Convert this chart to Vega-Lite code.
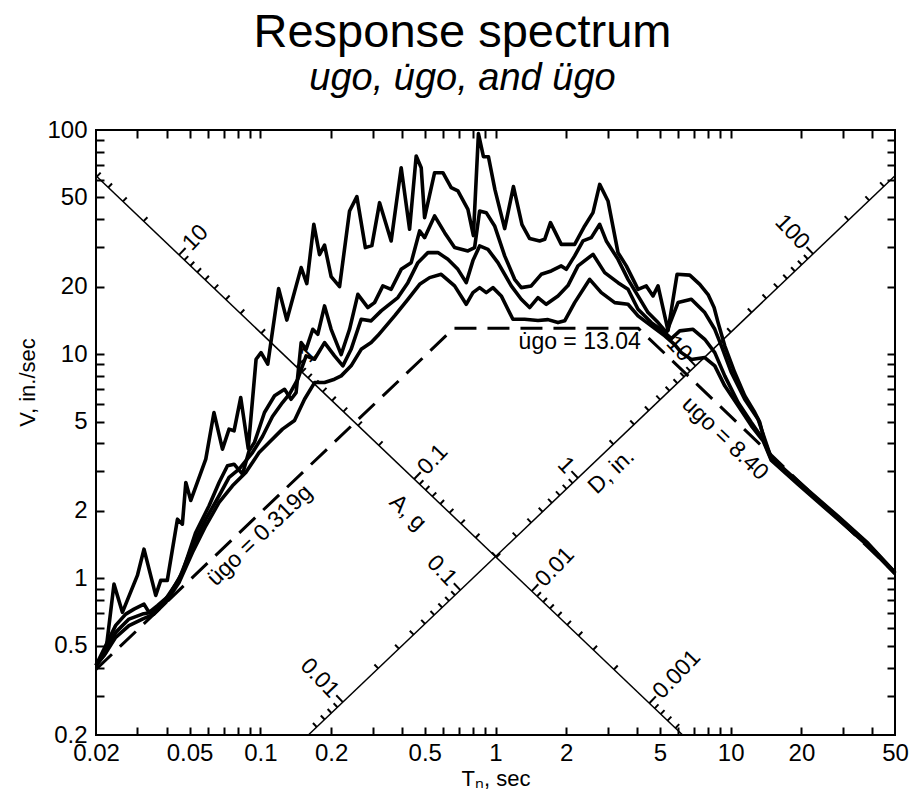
{
  "$schema": "https://vega.github.io/schema/vega-lite/v6.json",
  "width": 799,
  "height": 605,
  "padding": {"left": 16, "top": 9, "right": 5, "bottom": 5},
  "background": "white",
  "config": {
    "view": {"stroke": "black", "strokeWidth": 2},
    "font": "Liberation Sans",
    "axis": {"labelFont": "Liberation Sans", "titleFont": "Liberation Sans", "labelColor": "black", "titleColor": "black", "domainColor": "black", "tickColor": "black", "grid": false, "titleFontWeight": "normal"}
  },
  "title": {"text": "Response spectrum", "subtitle": "\u2003\u2009ugo, u\u0307go, and \u00fcgo", "fontSize": 47, "subtitleFontSize": 38, "font": "Liberation Sans", "subtitleFont": "Liberation Sans", "fontWeight": "normal", "subtitleFontStyle": "italic", "color": "black", "subtitleColor": "black", "anchor": "middle", "dx": -33, "offset": 19, "subtitlePadding": 3},
  "datasets": {
    "curves": [
      {"c":"c1","T":0.02,"V":0.409},{"c":"c1","T":0.022,"V":0.467},{"c":"c1","T":0.02385,"V":0.942},{"c":"c1","T":0.0259,"V":0.705},{"c":"c1","T":0.03,"V":1.03},{"c":"c1","T":0.032,"V":1.349},{"c":"c1","T":0.0359,"V":0.839},{"c":"c1","T":0.0377,"V":0.979},{"c":"c1","T":0.0402,"V":0.979},{"c":"c1","T":0.0444,"V":1.836},{"c":"c1","T":0.0466,"V":1.744},{"c":"c1","T":0.0482,"V":2.676},{"c":"c1","T":0.0506,"V":2.225},{"c":"c1","T":0.0586,"V":3.4},{"c":"c1","T":0.0635,"V":5.49},{"c":"c1","T":0.069,"V":3.767},{"c":"c1","T":0.0736,"V":4.63},{"c":"c1","T":0.0773,"V":4.55},{"c":"c1","T":0.0825,"V":6.4},{"c":"c1","T":0.0888,"V":3.794},{"c":"c1","T":0.0959,"V":9.49},{"c":"c1","T":0.1007,"V":10.16},{"c":"c1","T":0.1075,"V":9.02},{"c":"c1","T":0.1196,"V":19.61},{"c":"c1","T":0.1296,"V":14.19},{"c":"c1","T":0.1491,"V":24.33},{"c":"c1","T":0.1576,"V":20.64},{"c":"c1","T":0.1688,"V":37.95},{"c":"c1","T":0.1785,"V":27.8},{"c":"c1","T":0.1875,"V":30.65},{"c":"c1","T":0.2,"V":22.18},{"c":"c1","T":0.2172,"V":20.02},{"c":"c1","T":0.2395,"V":43.54},{"c":"c1","T":0.2573,"V":50.42},{"c":"c1","T":0.2796,"V":29.88},{"c":"c1","T":0.298,"V":30.5},{"c":"c1","T":0.3214,"V":47.41},{"c":"c1","T":0.36,"V":32.0},{"c":"c1","T":0.3971,"V":67.9},{"c":"c1","T":0.4311,"V":36.06},{"c":"c1","T":0.46,"V":76.6},{"c":"c1","T":0.4831,"V":67.9},{"c":"c1","T":0.4994,"V":40.64},{"c":"c1","T":0.5508,"V":64.5},{"c":"c1","T":0.5975,"V":64.5},{"c":"c1","T":0.6479,"V":55.3},{"c":"c1","T":0.6919,"V":53.46},{"c":"c1","T":0.7633,"V":44.26},{"c":"c1","T":0.8054,"V":33.8},{"c":"c1","T":0.8461,"V":96.3},{"c":"c1","T":0.8886,"V":76.0},{"c":"c1","T":0.9331,"V":76.0},{"c":"c1","T":0.9945,"V":54.2},{"c":"c1","T":1.094,"V":36.31},{"c":"c1","T":1.192,"V":55.9},{"c":"c1","T":1.296,"V":37.84},{"c":"c1","T":1.397,"V":32.77},{"c":"c1","T":1.541,"V":32.0},{"c":"c1","T":1.619,"V":32.53},{"c":"c1","T":1.713,"V":38.62},{"c":"c1","T":1.904,"V":30.9},{"c":"c1","T":2.171,"V":30.9},{"c":"c1","T":2.395,"V":37.33},{"c":"c1","T":2.598,"V":42.79},{"c":"c1","T":2.774,"V":57.2},{"c":"c1","T":3.009,"V":48.25},{"c":"c1","T":3.319,"V":28.38},{"c":"c1","T":3.6,"V":24.76},{"c":"c1","T":3.909,"V":20.85},{"c":"c1","T":4.037,"V":19.47},{"c":"c1","T":4.378,"V":20.16},{"c":"c1","T":4.677,"V":18.19},{"c":"c1","T":4.912,"V":20.16},{"c":"c1","T":5.418,"V":12.74},{"c":"c1","T":5.918,"V":22.71},{"c":"c1","T":6.701,"V":22.52},{"c":"c1","T":7.391,"V":20.49},{"c":"c1","T":8.017,"V":18.44},{"c":"c1","T":8.504,"V":16.14},{"c":"c1","T":8.843,"V":13.83},{"c":"c1","T":9.44,"V":10.89},{"c":"c1","T":10.41,"V":8.28},{"c":"c1","T":11.48,"V":6.52},{"c":"c1","T":12.67,"V":5.49},{"c":"c1","T":13.3,"V":4.96},{"c":"c1","T":13.98,"V":4.04},{"c":"c1","T":14.9,"V":3.46},{"c":"c1","T":19.36,"V":2.7},{"c":"c1","T":28.66,"V":1.888},{"c":"c1","T":38.44,"V":1.431},{"c":"c1","T":50,"V":1.062},
      {"c":"c2","T":0.02,"V":0.409},{"c":"c2","T":0.02163,"V":0.4834},{"c":"c2","T":0.02425,"V":0.6166},{"c":"c2","T":0.02676,"V":0.6925},{"c":"c2","T":0.02902,"V":0.729},{"c":"c2","T":0.032,"V":0.7674},{"c":"c2","T":0.03361,"V":0.7047},{"c":"c2","T":0.0365,"V":0.7549},{"c":"c2","T":0.04089,"V":0.8364},{"c":"c2","T":0.0466,"V":1.062},{"c":"c2","T":0.0531,"V":1.602},{"c":"c2","T":0.06052,"V":2.107},{"c":"c2","T":0.06675,"V":2.676},{"c":"c2","T":0.07246,"V":3.177},{"c":"c2","T":0.0773,"V":3.229},{"c":"c2","T":0.08395,"V":2.915},{"c":"c2","T":0.08956,"V":3.706},{"c":"c2","T":0.0944,"V":4.04},{"c":"c2","T":0.1041,"V":5.49},{"c":"c2","T":0.1149,"V":6.52},{"c":"c2","T":0.1267,"V":6.97},{"c":"c2","T":0.1351,"V":6.29},{"c":"c2","T":0.1419,"V":6.74},{"c":"c2","T":0.1491,"V":11.26},{"c":"c2","T":0.1565,"V":10.51},{"c":"c2","T":0.1671,"V":12.91},{"c":"c2","T":0.1755,"V":12.27},{"c":"c2","T":0.1875,"V":16.42},{"c":"c2","T":0.2,"V":12.91},{"c":"c2","T":0.2207,"V":9.96},{"c":"c2","T":0.2395,"V":12.91},{"c":"c2","T":0.2598,"V":18.49},{"c":"c2","T":0.2866,"V":16.14},{"c":"c2","T":0.3059,"V":16.98},{"c":"c2","T":0.3319,"V":20.16},{"c":"c2","T":0.36,"V":19.47},{"c":"c2","T":0.3971,"V":23.9},{"c":"c2","T":0.4379,"V":25.6},{"c":"c2","T":0.4757,"V":35.46},{"c":"c2","T":0.4994,"V":33.1},{"c":"c2","T":0.5508,"V":41.37},{"c":"c2","T":0.6077,"V":34.84},{"c":"c2","T":0.67,"V":29.88},{"c":"c2","T":0.7633,"V":28.87},{"c":"c2","T":0.815,"V":29.88},{"c":"c2","T":0.856,"V":43.54},{"c":"c2","T":0.9134,"V":42.79},{"c":"c2","T":0.9915,"V":37.33},{"c":"c2","T":1.094,"V":27.44},{"c":"c2","T":1.206,"V":21.57},{"c":"c2","T":1.287,"V":19.81},{"c":"c2","T":1.419,"V":20.16},{"c":"c2","T":1.565,"V":22.71},{"c":"c2","T":1.726,"V":23.51},{"c":"c2","T":1.904,"V":24.76},{"c":"c2","T":2.0,"V":23.9},{"c":"c2","T":2.171,"V":27.44},{"c":"c2","T":2.356,"V":32.0},{"c":"c2","T":2.555,"V":33.1},{"c":"c2","T":2.774,"V":37.95},{"c":"c2","T":2.959,"V":32.0},{"c":"c2","T":3.319,"V":26.49},{"c":"c2","T":3.661,"V":21.57},{"c":"c2","T":4.037,"V":18.19},{"c":"c2","T":4.454,"V":15.33},{"c":"c2","T":4.912,"V":13.83},{"c":"c2","T":5.328,"V":12.49},{"c":"c2","T":5.975,"V":16.98},{"c":"c2","T":6.806,"V":17.57},{"c":"c2","T":7.762,"V":15.33},{"c":"c2","T":8.563,"V":12.91},{"c":"c2","T":9.133,"V":10.89},{"c":"c2","T":10.07,"V":8.28},{"c":"c2","T":11.48,"V":6.29},{"c":"c2","T":13.08,"V":5.128},{"c":"c2","T":13.98,"V":4.174},{"c":"c2","T":14.9,"V":3.423},{"c":"c2","T":19.36,"V":2.676},{"c":"c2","T":28.66,"V":1.869},{"c":"c2","T":38.44,"V":1.416},{"c":"c2","T":50,"V":1.062},
      {"c":"c3","T":0.02,"V":0.409},{"c":"c3","T":0.02163,"V":0.4592},{"c":"c3","T":0.02425,"V":0.5739},{"c":"c3","T":0.02763,"V":0.6578},{"c":"c3","T":0.0315,"V":0.6925},{"c":"c3","T":0.03475,"V":0.705},{"c":"c3","T":0.03959,"V":0.8078},{"c":"c3","T":0.0451,"V":0.9917},{"c":"c3","T":0.05143,"V":1.397},{"c":"c3","T":0.0586,"V":1.836},{"c":"c3","T":0.06675,"V":2.335},{"c":"c3","T":0.0736,"V":2.818},{"c":"c3","T":0.08118,"V":3.068},{"c":"c3","T":0.09258,"V":3.641},{"c":"c3","T":0.1021,"V":4.292},{"c":"c3","T":0.1126,"V":5.27},{"c":"c3","T":0.1242,"V":6.085},{"c":"c3","T":0.1334,"V":6.67},{"c":"c3","T":0.1443,"V":7.73},{"c":"c3","T":0.1565,"V":9.83},{"c":"c3","T":0.17,"V":9.49},{"c":"c3","T":0.1875,"V":11.26},{"c":"c3","T":0.2067,"V":9.83},{"c":"c3","T":0.2243,"V":8.87},{"c":"c3","T":0.2432,"V":10.51},{"c":"c3","T":0.2684,"V":14.31},{"c":"c3","T":0.296,"V":14.08},{"c":"c3","T":0.3265,"V":15.6},{"c":"c3","T":0.3844,"V":17.88},{"c":"c3","T":0.4241,"V":20.85},{"c":"c3","T":0.4677,"V":25.6},{"c":"c3","T":0.516,"V":28.38},{"c":"c3","T":0.5689,"V":28.38},{"c":"c3","T":0.6274,"V":26.49},{"c":"c3","T":0.6919,"V":23.9},{"c":"c3","T":0.7507,"V":20.85},{"c":"c3","T":0.8017,"V":26.14},{"c":"c3","T":0.856,"V":30.4},{"c":"c3","T":0.9286,"V":29.36},{"c":"c3","T":1.024,"V":25.6},{"c":"c3","T":1.167,"V":20.16},{"c":"c3","T":1.287,"V":17.57},{"c":"c3","T":1.397,"V":16.14},{"c":"c3","T":1.516,"V":17.88},{"c":"c3","T":1.644,"V":16.69},{"c":"c3","T":1.844,"V":18.19},{"c":"c3","T":2.033,"V":20.22},{"c":"c3","T":2.243,"V":24.76},{"c":"c3","T":2.598,"V":27.89},{"c":"c3","T":2.913,"V":23.11},{"c":"c3","T":3.319,"V":20.85},{"c":"c3","T":3.661,"V":19.47},{"c":"c3","T":4.037,"V":15.86},{"c":"c3","T":4.599,"V":13.83},{"c":"c3","T":5.245,"V":12.49},{"c":"c3","T":5.595,"V":11.73},{"c":"c3","T":6.076,"V":12.7},{"c":"c3","T":6.92,"V":12.91},{"c":"c3","T":7.762,"V":11.65},{"c":"c3","T":8.563,"V":10.16},{"c":"c3","T":9.44,"V":8.0},{"c":"c3","T":10.76,"V":6.085},{"c":"c3","T":12.25,"V":4.96},{"c":"c3","T":13.74,"V":4.174},{"c":"c3","T":14.9,"V":3.389},{"c":"c3","T":19.36,"V":2.649},{"c":"c3","T":28.66,"V":1.85},{"c":"c3","T":38.44,"V":1.402},{"c":"c3","T":50,"V":1.051},
      {"c":"c4","T":0.02,"V":0.409},{"c":"c4","T":0.02163,"V":0.4518},{"c":"c4","T":0.02425,"V":0.5452},{"c":"c4","T":0.02763,"V":0.6147},{"c":"c4","T":0.0315,"V":0.6578},{"c":"c4","T":0.0353,"V":0.6925},{"c":"c4","T":0.03959,"V":0.7807},{"c":"c4","T":0.0451,"V":0.9587},{"c":"c4","T":0.05143,"V":1.305},{"c":"c4","T":0.0586,"V":1.716},{"c":"c4","T":0.06675,"V":2.18},{"c":"c4","T":0.07609,"V":2.587},{"c":"c4","T":0.0867,"V":2.966},{"c":"c4","T":0.09876,"V":3.641},{"c":"c4","T":0.1089,"V":4.04},{"c":"c4","T":0.1242,"V":4.63},{"c":"c4","T":0.1397,"V":5.058},{"c":"c4","T":0.1541,"V":6.29},{"c":"c4","T":0.17,"V":7.47},{"c":"c4","T":0.1875,"V":7.47},{"c":"c4","T":0.2067,"V":7.73},{"c":"c4","T":0.2207,"V":8.0},{"c":"c4","T":0.2432,"V":8.87},{"c":"c4","T":0.2684,"V":10.51},{"c":"c4","T":0.296,"V":11.26},{"c":"c4","T":0.316,"V":12.1},{"c":"c4","T":0.3722,"V":14.82},{"c":"c4","T":0.4241,"V":17.57},{"c":"c4","T":0.4757,"V":20.49},{"c":"c4","T":0.5246,"V":21.95},{"c":"c4","T":0.5876,"V":22.71},{"c":"c4","T":0.67,"V":20.16},{"c":"c4","T":0.7507,"V":16.69},{"c":"c4","T":0.8017,"V":18.82},{"c":"c4","T":0.856,"V":19.81},{"c":"c4","T":0.9134,"V":18.82},{"c":"c4","T":0.9752,"V":19.81},{"c":"c4","T":1.058,"V":18.19},{"c":"c4","T":1.186,"V":14.31},{"c":"c4","T":1.33,"V":14.31},{"c":"c4","T":1.516,"V":14.12},{"c":"c4","T":1.672,"V":14.26},{"c":"c4","T":1.844,"V":13.83},{"c":"c4","T":1.969,"V":14.08},{"c":"c4","T":2.171,"V":16.98},{"c":"c4","T":2.515,"V":21.57},{"c":"c4","T":2.818,"V":18.82},{"c":"c4","T":3.214,"V":16.98},{"c":"c4","T":3.661,"V":16.69},{"c":"c4","T":4.037,"V":14.82},{"c":"c4","T":4.599,"V":13.37},{"c":"c4","T":5.245,"V":12.07},{"c":"c4","T":5.785,"V":11.04},{"c":"c4","T":6.172,"V":10.16},{"c":"c4","T":6.806,"V":9.46},{"c":"c4","T":7.762,"V":9.656},{"c":"c4","T":8.563,"V":8.87},{"c":"c4","T":9.44,"V":7.22},{"c":"c4","T":10.76,"V":5.88},{"c":"c4","T":12.25,"V":4.79},{"c":"c4","T":13.74,"V":4.107},{"c":"c4","T":14.9,"V":3.354},{"c":"c4","T":19.36,"V":2.622},{"c":"c4","T":28.66,"V":1.831},{"c":"c4","T":38.44,"V":1.395},{"c":"c4","T":50,"V":1.051}
    ],
    "ideal": [
      {"T":0.02,"V":0.3923},{"T":0.6647,"V":13.04},{"T":4.0475,"V":13.04},{"T":50,"V":1.0556}
    ],
    "axlines": [
      {"name":"A","T1":0.02,"V1":62.5,"T2":6.25,"V2":0.2},
      {"name":"D","T1":0.16,"V1":0.2,"T2":50,"V2":62.5}
    ],
    "aticks": [
      {"A":50,"T":0.02017,"V":61.97,"major":false},{"A":40,"T":0.02255,"V":55.43,"major":false},{"A":30,"T":0.02604,"V":48.01,"major":false},{"A":20,"T":0.03189,"V":39.2,"major":false},
      {"A":10,"T":0.0451,"V":27.72,"major":true,"lab":"10"},
      {"A":9,"T":0.04754,"V":26.29,"major":false},{"A":8,"T":0.05042,"V":24.79,"major":false},{"A":7,"T":0.05391,"V":23.19,"major":false},{"A":6,"T":0.05823,"V":21.47,"major":false},{"A":5,"T":0.06378,"V":19.6,"major":false},{"A":4,"T":0.07131,"V":17.53,"major":false},{"A":3,"T":0.08234,"V":15.18,"major":false},{"A":2,"T":0.1009,"V":12.4,"major":false},
      {"A":1,"T":0.1426,"V":8.765,"major":true,"lab":"1"},
      {"A":0.9,"T":0.1503,"V":8.315,"major":false},{"A":0.8,"T":0.1595,"V":7.839,"major":false},{"A":0.7,"T":0.1705,"V":7.333,"major":false},{"A":0.6,"T":0.1841,"V":6.789,"major":false},{"A":0.5,"T":0.2017,"V":6.197,"major":false},{"A":0.4,"T":0.2255,"V":5.543,"major":false},{"A":0.3,"T":0.2604,"V":4.801,"major":false},{"A":0.2,"T":0.3189,"V":3.92,"major":false},
      {"A":0.1,"T":0.451,"V":2.772,"major":true,"lab":"0.1"},
      {"A":0.09,"T":0.4754,"V":2.629,"major":false},{"A":0.08,"T":0.5042,"V":2.479,"major":false},{"A":0.07,"T":0.5391,"V":2.319,"major":false},{"A":0.06,"T":0.5823,"V":2.147,"major":false},{"A":0.05,"T":0.6378,"V":1.96,"major":false},{"A":0.04,"T":0.7131,"V":1.753,"major":false},{"A":0.03,"T":0.8234,"V":1.518,"major":false},{"A":0.02,"T":1.009,"V":1.24,"major":false},
      {"A":0.01,"T":1.426,"V":0.8765,"major":true,"lab":"0.01"},
      {"A":0.009,"T":1.503,"V":0.8315,"major":false},{"A":0.008,"T":1.595,"V":0.7839,"major":false},{"A":0.007,"T":1.705,"V":0.7333,"major":false},{"A":0.006,"T":1.841,"V":0.6789,"major":false},{"A":0.005,"T":2.017,"V":0.6197,"major":false},{"A":0.004,"T":2.255,"V":0.5543,"major":false},{"A":0.003,"T":2.604,"V":0.4801,"major":false},{"A":0.002,"T":3.189,"V":0.392,"major":false},
      {"A":0.001,"T":4.51,"V":0.2772,"major":true,"lab":"0.001"},
      {"A":0.0009,"T":4.754,"V":0.2629,"major":false},{"A":0.0008,"T":5.042,"V":0.2479,"major":false},{"A":0.0007,"T":5.391,"V":0.2319,"major":false},{"A":0.0006,"T":5.823,"V":0.2147,"major":false}
    ],
    "dticks": [
      {"D":0.006,"T":0.1737,"V":0.2171,"major":false},{"D":0.007,"T":0.1876,"V":0.2345,"major":false},{"D":0.008,"T":0.2005,"V":0.2507,"major":false},{"D":0.009,"T":0.2127,"V":0.2659,"major":false},
      {"D":0.01,"T":0.2242,"V":0.2802,"major":true,"lab":"0.01"},
      {"D":0.02,"T":0.3171,"V":0.3963,"major":false},{"D":0.03,"T":0.3883,"V":0.4854,"major":false},{"D":0.04,"T":0.4484,"V":0.5605,"major":false},{"D":0.05,"T":0.5013,"V":0.6267,"major":false},{"D":0.06,"T":0.5492,"V":0.6865,"major":false},{"D":0.07,"T":0.5932,"V":0.7415,"major":false},{"D":0.08,"T":0.6341,"V":0.7927,"major":false},{"D":0.09,"T":0.6726,"V":0.8407,"major":false},
      {"D":0.1,"T":0.709,"V":0.8862,"major":true,"lab":"0.1"},
      {"D":0.2,"T":1.0027,"V":1.2533,"major":false},{"D":0.3,"T":1.228,"V":1.535,"major":false},{"D":0.4,"T":1.418,"V":1.772,"major":false},{"D":0.5,"T":1.585,"V":1.982,"major":false},{"D":0.6,"T":1.737,"V":2.171,"major":false},{"D":0.7,"T":1.876,"V":2.345,"major":false},{"D":0.8,"T":2.005,"V":2.507,"major":false},{"D":0.9,"T":2.127,"V":2.659,"major":false},
      {"D":1,"T":2.242,"V":2.802,"major":true,"lab":"1"},
      {"D":2,"T":3.171,"V":3.963,"major":false},{"D":3,"T":3.883,"V":4.854,"major":false},{"D":4,"T":4.484,"V":5.605,"major":false},{"D":5,"T":5.013,"V":6.267,"major":false},{"D":6,"T":5.492,"V":6.865,"major":false},{"D":7,"T":5.932,"V":7.415,"major":false},{"D":8,"T":6.341,"V":7.927,"major":false},{"D":9,"T":6.726,"V":8.407,"major":false},
      {"D":10,"T":7.09,"V":8.862,"major":true,"lab":"10"},
      {"D":20,"T":10.03,"V":12.53,"major":false},{"D":30,"T":12.28,"V":15.35,"major":false},{"D":40,"T":14.18,"V":17.72,"major":false},{"D":50,"T":15.85,"V":19.82,"major":false},{"D":60,"T":17.37,"V":21.71,"major":false},{"D":70,"T":18.76,"V":23.45,"major":false},{"D":80,"T":20.05,"V":25.07,"major":false},{"D":90,"T":21.27,"V":26.59,"major":false},
      {"D":100,"T":22.42,"V":28.02,"major":true,"lab":"100"},
      {"D":200,"T":31.71,"V":39.63,"major":false},{"D":300,"T":38.83,"V":48.54,"major":false},{"D":400,"T":44.84,"V":56.05,"major":false}
    ],
    "notesUp": [
      {"T":0.0995,"V":1.553,"txt":"\u00fcgo = 0.319g"},
      {"T":3.113,"V":2.996,"txt":"D, in."}
    ],
    "notesFlat": [
      {"T":2.28,"V":11.38,"txt":"u\u0307go = 13.04"}
    ],
    "notesDown": [
      {"T":9.47,"V":4.205,"txt":"ugo = 8.40"},
      {"T":0.424,"V":1.967,"txt":"A, g"}
    ]
  },
  "layer": [
    {
      "data": {"name": "axlines"},
      "mark": {"type": "rule", "color": "black", "strokeWidth": 1.5},
      "encoding": {
        "x": {"field": "T1", "type": "quantitative", "scale": {"type": "log", "domain": [0.02, 50], "nice": false},
              "axis": {"orient": "top", "offset": -8, "values": [0.03,0.04,0.05,0.06,0.07,0.08,0.09,0.1,0.2,0.3,0.4,0.5,0.6,0.7,0.8,0.9,1,2,3,4,5,6,7,8,9,10,20,30,40], "labels": false, "domain": false, "ticks": true, "tickSize": 8, "tickWidth": 2, "title": null}},
        "x2": {"field": "T2"},
        "y": {"field": "V1", "type": "quantitative", "scale": {"type": "log", "domain": [0.2, 100], "nice": false},
              "axis": {"orient": "right", "offset": -8, "values": [0.3,0.4,0.5,0.6,0.7,0.8,0.9,1,2,3,4,5,6,7,8,9,10,20,30,40,50,60,70,80,90], "labels": false, "domain": false, "ticks": true, "tickSize": 8, "tickWidth": 2, "title": null}},
        "y2": {"field": "V2"}
      }
    },
    {
      "data": {"name": "aticks"},
      "mark": {"type": "point", "shape": "M0,0L0,-1", "angle": 43.63, "filled": false, "stroke": "black", "strokeWidth": 2, "opacity": 1, "strokeOpacity": 1},
      "encoding": {
        "x": {"field": "T", "type": "quantitative", "scale": {"type": "log", "domain": [0.02, 50], "nice": false}, "axis": null},
        "y": {"field": "V", "type": "quantitative", "scale": {"type": "log", "domain": [0.2, 100], "nice": false}, "axis": null},
        "size": {"condition": {"test": "datum.major", "value": 360}, "value": 121}
      }
    },
    {
      "data": {"name": "dticks"},
      "mark": {"type": "point", "shape": "M0,0L0,-1", "angle": 316.37, "filled": false, "stroke": "black", "strokeWidth": 2, "opacity": 1, "strokeOpacity": 1},
      "encoding": {
        "x": {"field": "T", "type": "quantitative", "scale": {"type": "log", "domain": [0.02, 50], "nice": false}, "axis": null},
        "y": {"field": "V", "type": "quantitative", "scale": {"type": "log", "domain": [0.2, 100], "nice": false}, "axis": null},
        "size": {"condition": {"test": "datum.major", "value": 360}, "value": 121}
      }
    },
    {
      "data": {"name": "aticks"},
      "transform": [{"filter": "datum.major"}],
      "mark": {"type": "text", "angle": 313.63, "align": "left", "baseline": "middle", "dx": 11, "fontSize": 23, "font": "Liberation Sans", "color": "black"},
      "encoding": {
        "x": {"field": "T", "type": "quantitative", "scale": {"type": "log", "domain": [0.02, 50], "nice": false}, "axis": null},
        "y": {"field": "V", "type": "quantitative", "scale": {"type": "log", "domain": [0.2, 100], "nice": false}, "axis": null},
        "text": {"field": "lab"}
      }
    },
    {
      "data": {"name": "dticks"},
      "transform": [{"filter": "datum.major"}],
      "mark": {"type": "text", "angle": 46.37, "align": "right", "baseline": "middle", "dx": -11, "fontSize": 23, "font": "Liberation Sans", "color": "black"},
      "encoding": {
        "x": {"field": "T", "type": "quantitative", "scale": {"type": "log", "domain": [0.02, 50], "nice": false}, "axis": null},
        "y": {"field": "V", "type": "quantitative", "scale": {"type": "log", "domain": [0.2, 100], "nice": false}, "axis": null},
        "text": {"field": "lab"}
      }
    },
    {
      "data": {"name": "notesUp"},
      "mark": {"type": "text", "angle": 316.37, "align": "center", "baseline": "middle", "fontSize": 23, "font": "Liberation Sans", "color": "black"},
      "encoding": {
        "x": {"field": "T", "type": "quantitative", "scale": {"type": "log", "domain": [0.02, 50], "nice": false}, "axis": null},
        "y": {"field": "V", "type": "quantitative", "scale": {"type": "log", "domain": [0.2, 100], "nice": false}, "axis": null},
        "text": {"field": "txt"}
      }
    },
    {
      "data": {"name": "notesFlat"},
      "mark": {"type": "text", "align": "center", "baseline": "middle", "fontSize": 23, "font": "Liberation Sans", "color": "black"},
      "encoding": {
        "x": {"field": "T", "type": "quantitative", "scale": {"type": "log", "domain": [0.02, 50], "nice": false}, "axis": null},
        "y": {"field": "V", "type": "quantitative", "scale": {"type": "log", "domain": [0.2, 100], "nice": false}, "axis": null},
        "text": {"field": "txt"}
      }
    },
    {
      "data": {"name": "notesDown"},
      "mark": {"type": "text", "angle": 43.63, "align": "center", "baseline": "middle", "fontSize": 23, "font": "Liberation Sans", "color": "black"},
      "encoding": {
        "x": {"field": "T", "type": "quantitative", "scale": {"type": "log", "domain": [0.02, 50], "nice": false}, "axis": null},
        "y": {"field": "V", "type": "quantitative", "scale": {"type": "log", "domain": [0.2, 100], "nice": false}, "axis": null},
        "text": {"field": "txt"}
      }
    },
    {
      "data": {"name": "ideal"},
      "mark": {"type": "line", "color": "black", "strokeWidth": 3, "strokeDash": [22, 11]},
      "encoding": {
        "x": {"field": "T", "type": "quantitative", "scale": {"type": "log", "domain": [0.02, 50], "nice": false},
              "axis": {"orient": "bottom", "offset": -8, "values": [0.03,0.04,0.05,0.06,0.07,0.08,0.09,0.1,0.2,0.3,0.4,0.5,0.6,0.7,0.8,0.9,1,2,3,4,5,6,7,8,9,10,20,30,40], "labels": false, "domain": false, "ticks": true, "tickSize": 8, "tickWidth": 2, "title": null}},
        "y": {"field": "V", "type": "quantitative", "scale": {"type": "log", "domain": [0.2, 100], "nice": false},
              "axis": {"orient": "left", "offset": -8, "values": [0.3,0.4,0.5,0.6,0.7,0.8,0.9,1,2,3,4,5,6,7,8,9,10,20,30,40,50,60,70,80,90], "labels": false, "domain": false, "ticks": true, "tickSize": 8, "tickWidth": 2, "title": null}}
      }
    },
    {
      "data": {"name": "curves"},
      "mark": {"type": "line", "color": "black", "strokeWidth": 3.6, "strokeJoin": "round"},
      "encoding": {
        "x": {"field": "T", "type": "quantitative", "scale": {"type": "log", "domain": [0.02, 50], "nice": false},
              "axis": {"orient": "bottom", "values": [0.02,0.05,0.1,0.2,0.5,1,2,5,10,20,50], "format": "~g", "labelOverlap": false, "labelFlush": false, "labelFontSize": 24, "labelPadding": 6, "ticks": false, "tickSize": 0, "domain": false, "title": "T\u2099, sec", "titleFontSize": 22, "titlePadding": 3}},
        "y": {"field": "V", "type": "quantitative", "scale": {"type": "log", "domain": [0.2, 100], "nice": false},
              "axis": {"orient": "left", "values": [0.2,0.5,1,2,5,10,20,50,100], "format": "~g", "labelOverlap": false, "labelFlush": false, "labelFontSize": 24, "labelPadding": 9, "ticks": false, "tickSize": 0, "domain": false, "title": "V, in./sec", "titleFontSize": 22, "titlePadding": 7, "titleY": 252}},
        "detail": {"field": "c"}
      }
    }
  ],
  "resolve": {"axis": {"x": "independent", "y": "independent"}}
}
